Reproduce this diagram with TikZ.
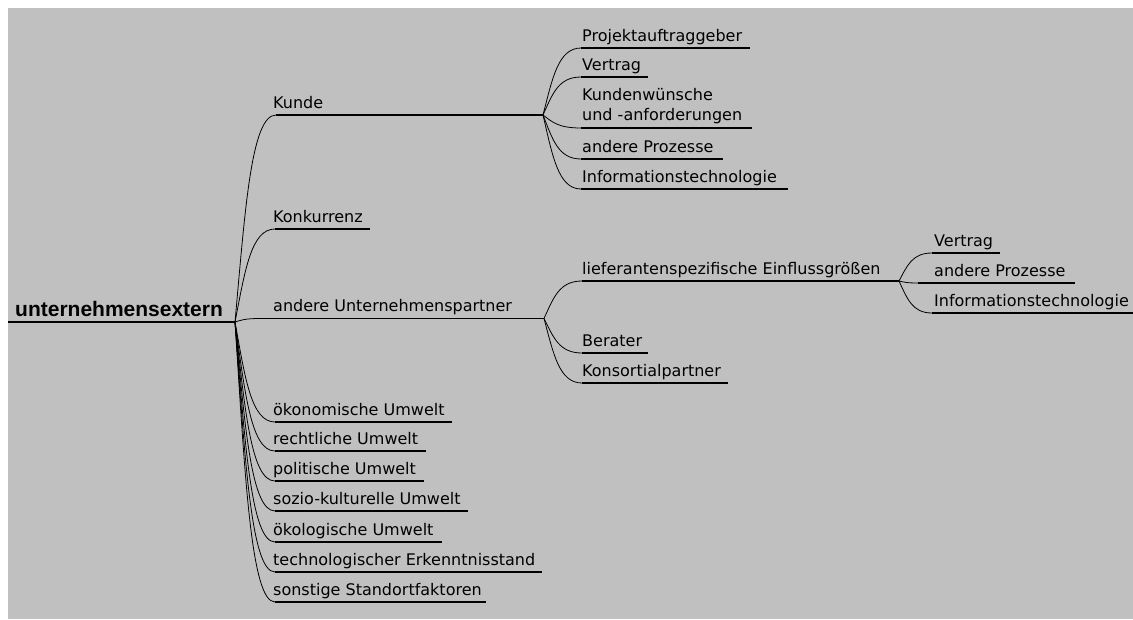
\documentclass[tikz,border=0pt]{standalone}
\usepackage{fontspec}
\setmainfont{DejaVu Sans}
\newfontfamily\rootfont{Liberation Sans}
\usetikzlibrary{calc}
\definecolor{canvas}{HTML}{C0C0C0}

\begin{document}
\begin{tikzpicture}[
  x=1pt,y=-1pt,
  topic/.style={anchor=base west,inner sep=0pt,font=\fontsize{16}{20}\selectfont},
  rule/.style={line width=1.3pt},
  limb/.style={line width=.8pt,to path={let \p1=(\tikztostart),\p2=(\tikztotarget) in
    .. controls ({\x1+.25*(\x2-\x1)},{\y1+.55*(\y2-\y1)}) and ({\x2-.6*(\x2-\x1)},\y2) .. (\tikztotarget)}}
]
  \useasboundingbox (0,0) rectangle (1133,619);
  \fill[white] (0,0) rectangle (1133,619);
  \fill[canvas] (8,8) rectangle (1133,619);

  % root
  \node[anchor=base west,inner sep=0pt,font=\rootfont\fontsize{21}{24}\selectfont\bfseries] (root) at (15,316) {unternehmensextern};
  \coordinate (root-a) at (8,322);
  \coordinate (hub) at (235,322);

  % first level
  \node[topic] (kunde) at (273,108) {Kunde};
  \coordinate (kunde-a) at (276,115);
  \coordinate (khub) at (543,115);
  \node[topic] (konkurrenz) at (273,222) {Konkurrenz};
  \coordinate (konkurrenz-a) at (275,229);
  \coordinate (konkurrenz-b) at (370,229);
  \node[topic] (partner) at (273,311) {andere Unternehmenspartner};
  \coordinate (partner-a) at (260,318.5);
  \coordinate (phub) at (544,318.5);
  \node[topic] (oekonom) at (273,415) {ökonomische Umwelt};
  \coordinate (oekonom-a) at (275,422);
  \coordinate (oekonom-b) at (452,422);
  \node[topic] (recht) at (273,444) {rechtliche Umwelt};
  \coordinate (recht-a) at (275,451);
  \coordinate (recht-b) at (426,451);
  \node[topic] (politik) at (273,474) {politische Umwelt};
  \coordinate (politik-a) at (275,481);
  \coordinate (politik-b) at (424,481);
  \node[topic] (sozio) at (273,504) {sozio-kulturelle Umwelt};
  \coordinate (sozio-a) at (275,511);
  \coordinate (sozio-b) at (468,511);
  \node[topic] (oekolog) at (273,535) {ökologische Umwelt};
  \coordinate (oekolog-a) at (275,542);
  \coordinate (oekolog-b) at (442,542);
  \node[topic] (technik) at (273,565) {technologischer Erkenntnisstand};
  \coordinate (technik-a) at (275,572);
  \coordinate (technik-b) at (542,572);
  \node[topic] (standort) at (273,595) {sonstige Standortfaktoren};
  \coordinate (standort-a) at (275,602);
  \coordinate (standort-b) at (486,602);

  % below Kunde
  \node[topic] (auftrag) at (582,41) {Projektauftraggeber};
  \coordinate (auftrag-a) at (581,48);
  \coordinate (auftrag-b) at (750,48);
  \node[topic] (vertrag) at (582,70) {Vertrag};
  \coordinate (vertrag-a) at (581,77);
  \coordinate (vertrag-b) at (648,77);
  \node[topic,anchor=south west,align=left] (wunsch) at (582,124.5) {Kundenwünsche\\und -anforderungen};
  \coordinate (wunsch-a) at (581,128);
  \coordinate (wunsch-b) at (752,128);
  \node[topic] (prozess) at (582,152) {andere Prozesse};
  \coordinate (prozess-a) at (581,159);
  \coordinate (prozess-b) at (723,159);
  \node[topic] (it) at (582,182) {Informationstechnologie};
  \coordinate (it-a) at (581,189);
  \coordinate (it-b) at (788,189);

  % below andere Unternehmenspartner
  \node[topic] (liefer) at (582,274) {lieferantenspezifische Einflussgrößen};
  \coordinate (liefer-a) at (582,281);
  \coordinate (lhub) at (899,281);
  \node[topic] (berater) at (582,346) {Berater};
  \coordinate (berater-a) at (582,353);
  \coordinate (berater-b) at (648,353);
  \node[topic] (konsort) at (582,376) {Konsortialpartner};
  \coordinate (konsort-a) at (582,383);
  \coordinate (konsort-b) at (728,383);

  % below lieferantenspezifische Einflussgroessen
  \node[topic] (lvertrag) at (934,246) {Vertrag};
  \coordinate (lvertrag-a) at (932,253);
  \coordinate (lvertrag-b) at (1000,253);
  \node[topic] (lprozess) at (934,276) {andere Prozesse};
  \coordinate (lprozess-a) at (918,283);
  \coordinate (lprozess-b) at (1075,283);
  \node[topic] (lit) at (934,306) {Informationstechnologie};
  \coordinate (lit-a) at (932,313);
  \coordinate (lit-b) at (1133,313);

  \draw[rule,line width=1.5pt] (root-a) -- (hub);

  \draw[limb] (hub) to (kunde-a);
  \draw[limb] (hub) to (konkurrenz-a);
  \draw[limb] (hub) to (partner-a);
  \draw[limb] (hub) to (oekonom-a);
  \draw[limb] (hub) to (recht-a);
  \draw[limb] (hub) to (politik-a);
  \draw[limb] (hub) to (sozio-a);
  \draw[limb] (hub) to (oekolog-a);
  \draw[limb] (hub) to (technik-a);
  \draw[limb] (hub) to (standort-a);
  \draw[rule] (kunde-a) -- (khub);
  \draw[rule] (konkurrenz-a) -- (konkurrenz-b);
  \draw[rule] (partner-a) -- (phub);
  \draw[rule] (oekonom-a) -- (oekonom-b);
  \draw[rule] (recht-a) -- (recht-b);
  \draw[rule] (politik-a) -- (politik-b);
  \draw[rule] (sozio-a) -- (sozio-b);
  \draw[rule] (oekolog-a) -- (oekolog-b);
  \draw[rule] (technik-a) -- (technik-b);
  \draw[rule] (standort-a) -- (standort-b);

  \draw[limb] (khub) to (auftrag-a);
  \draw[limb] (khub) to (vertrag-a);
  \draw[limb] (khub) to (wunsch-a);
  \draw[limb] (khub) to (prozess-a);
  \draw[limb] (khub) to (it-a);
  \draw[rule] (auftrag-a) -- (auftrag-b);
  \draw[rule] (vertrag-a) -- (vertrag-b);
  \draw[rule] (wunsch-a) -- (wunsch-b);
  \draw[rule] (prozess-a) -- (prozess-b);
  \draw[rule] (it-a) -- (it-b);

  \draw[limb] (phub) to (liefer-a);
  \draw[limb] (phub) to (berater-a);
  \draw[limb] (phub) to (konsort-a);
  \draw[rule] (liefer-a) -- (lhub);
  \draw[rule] (berater-a) -- (berater-b);
  \draw[rule] (konsort-a) -- (konsort-b);

  \draw[limb] (lhub) to (lvertrag-a);
  \draw[limb] (lhub) to (lprozess-a);
  \draw[limb] (lhub) to (lit-a);
  \draw[rule] (lvertrag-a) -- (lvertrag-b);
  \draw[rule] (lprozess-a) -- (lprozess-b);
  \draw[rule] (lit-a) -- (lit-b);
\end{tikzpicture}
\end{document}
